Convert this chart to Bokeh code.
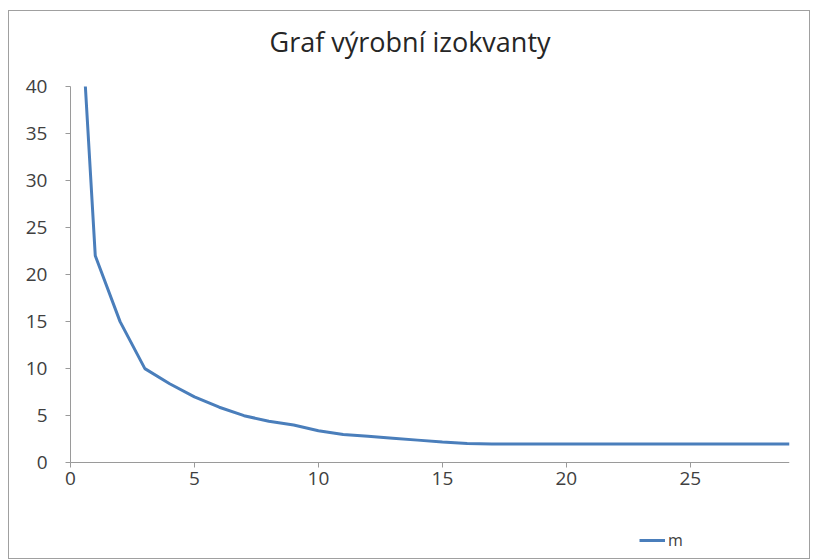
from bokeh.plotting import figure
from bokeh.models import Range1d, FixedTicker, Legend, LegendItem, Title
from bokeh.embed import file_html
from bokeh.resources import INLINE

x_vals = [0.6, 1, 2, 3, 4, 5, 6, 7, 8, 9, 10, 11, 12, 13, 14, 15, 16, 17,
          18, 19, 20, 21, 22, 23, 24, 25, 26, 27, 28, 29]
m_vals = [40, 22, 15, 10, 8.4, 7, 5.9, 5, 4.4, 4, 3.4, 3, 2.8, 2.6, 2.4, 2.2, 2.05, 2,
          2, 2, 2, 2, 2, 2, 2, 2, 2, 2, 2, 2]
x_ticks = [0, 5, 10, 15, 20, 25]
y_ticks = [0, 5, 10, 15, 20, 25, 30, 35, 40]
title_text = "Graf výrobní izokvanty"
series_name = "m"

p = figure(width=802, height=549, output_backend="svg", toolbar_location=None,
           x_range=Range1d(-2.46, 29), y_range=Range1d(-10.4, 42.13),
           min_border_left=0, min_border_right=22, min_border_top=55, min_border_bottom=0)
p.title = Title(text=title_text, align="left", offset=260,
                text_font="Open Sans", text_font_size="27px", text_font_style="normal",
                text_color="#262626", standoff=14)
p.background_fill_color = "white"
p.border_fill_color = "white"
p.outline_line_color = None
p.xgrid.visible = False
p.ygrid.visible = False
p.styles = {"border": "1px solid #a0a0a0", "margin-left": "8px", "margin-top": "10px"}

r = p.line(x_vals, m_vals, line_color="#4a7ebb", line_width=3)

for ax in (p.xaxis, p.yaxis):
    ax.axis_line_color = "#9a9a9a"
    ax.major_tick_line_color = "#9a9a9a"
    ax.minor_tick_line_color = None
    ax.major_tick_in = 0
    ax.major_tick_out = 5
    ax.major_label_text_font = "Open Sans"
    ax.major_label_text_font_size = "19px"
    ax.major_label_text_color = "#404040"
p.xaxis.ticker = FixedTicker(ticks=x_ticks)
p.yaxis.ticker = FixedTicker(ticks=y_ticks)
p.xaxis.fixed_location = 0
p.yaxis.fixed_location = 0
p.xaxis.bounds = (0, x_vals[-1])
p.yaxis.bounds = (y_ticks[0], y_ticks[-1])
p.yaxis.major_label_standoff = 18
p.xaxis.major_label_standoff = 4

legend = Legend(items=[LegendItem(label=series_name, renderers=[r])],
                location=(630, 9), border_line_color=None,
                background_fill_alpha=0, glyph_width=26, label_standoff=3,
                label_text_font="Open Sans", label_text_font_size="16px",
                label_text_color="#404040", padding=2, margin=0)
p.add_layout(legend, "center")

open("out.html", "w").write(file_html(p, INLINE))
